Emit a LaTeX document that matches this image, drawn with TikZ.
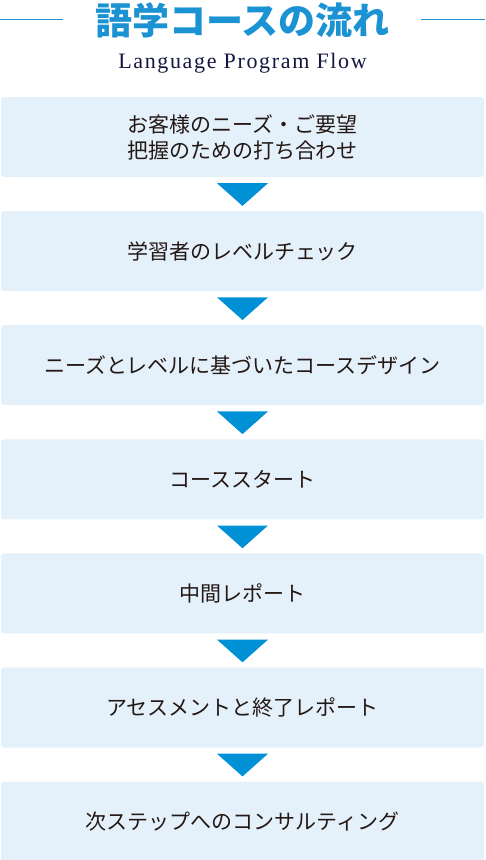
\documentclass[tikz,border=0pt]{standalone}
\usepackage{fontspec}
\setmainfont{Liberation Serif}
\newfontfamily\cjk{Noto Sans CJK JP}
\newfontfamily\subfont[LetterSpace=7.5]{Liberation Serif}
\usetikzlibrary{positioning,calc}
\definecolor{titleblue}{HTML}{1B93D3}
\definecolor{arrowblue}{HTML}{0090D6}
\definecolor{boxfill}{HTML}{E5F1FA}
\definecolor{textdark}{HTML}{231815}
\definecolor{subnavy}{HTML}{14163F}
\tikzset{
    stepbox/.style={fill=boxfill, rounded corners=3pt, minimum width=483pt, minimum height=80pt,
        inner sep=0pt, align=center, text=textdark, font=\cjk\fontsize{21}{26}\selectfont},
    downtri/.style={fill=arrowblue}
}
\begin{document}
\begin{tikzpicture}[x=1pt,y=-1pt, node distance=33.7pt]
    \useasboundingbox (0,0) rectangle (485,860);
    % Title and lines
    \node[text=titleblue, font=\cjk\bfseries\fontsize{37}{37}\selectfont] (title) at (242.5,20) {語学コースの流れ};
    \draw[titleblue, line width=0.8pt] (0,19) -- (63,19);
    \draw[titleblue, line width=0.8pt] (421,19) -- (485,19);
    \node[text=subnavy, font=\subfont\fontsize{22}{22}\selectfont] (sub) at (242.5,63) {Language Program Flow};
    % Steps
    \node[stepbox] (s1) at (242.5,137) {お客様のニーズ・ご要望\\把握のための打ち合わせ};
    \node[stepbox, below=of s1] (s2) {学習者のレベルチェック};
    \node[stepbox, below=of s2] (s3) {ニーズとレベルに基づいたコースデザイン};
    \node[stepbox, below=of s3] (s4) {コーススタート};
    \node[stepbox, below=of s4] (s5) {中間レポート};
    \node[stepbox, below=of s5] (s6) {アセスメントと終了レポート};
    \node[stepbox, below=of s6] (s7) {次ステップへのコンサルティング};
    % Arrows between steps
    \foreach \a/\b in {s1/s2,s2/s3,s3/s4,s4/s5,s5/s6,s6/s7}
        \fill[downtri] ($(\a.south)+(-25.5,6)$) -- ($(\a.south)+(25.5,6)$) -- ($(\b.north)+(0,-5)$) -- cycle;
\end{tikzpicture}
\end{document}
